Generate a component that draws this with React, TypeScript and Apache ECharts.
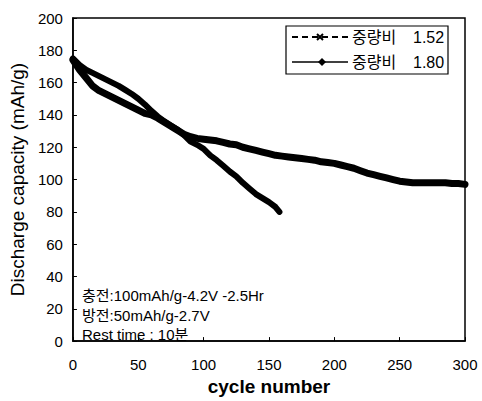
import React, { useEffect, useRef } from "react";
import * as echarts from "echarts";

const xTicks = [0, 50, 100, 150, 200, 250, 300];
const yTicks = [0, 20, 40, 60, 80, 100, 120, 140, 160, 180, 200];

const cyclesA = [0, 5, 10, 15, 20, 25, 30, 35, 40, 45, 50, 55, 60, 65, 70, 75, 80, 85, 90, 95, 100, 105, 110, 115, 120, 125, 130, 135, 140, 145, 150, 155, 160, 165, 170, 175, 180, 185, 190, 195, 200, 205, 210, 215, 220, 225, 230, 235, 240, 245, 250, 255, 260, 265, 270, 275, 280, 285, 290, 295, 300];
const valuesA = [174, 168, 163, 158, 155, 153, 151, 149, 147, 145, 143, 141, 140, 138, 135.5, 133, 130.5, 128, 126.5, 125.5, 125, 124.5, 124, 123, 122, 121.5, 120, 119, 118, 117, 116, 115, 114.5, 114, 113.5, 113, 112.5, 112, 111, 110.5, 110, 109, 108, 107, 105.5, 104, 103, 102, 101, 100, 99, 98.5, 98, 98, 98, 98, 98, 98, 97.5, 97.5, 97];

const cyclesB = [0, 5, 10, 15, 20, 25, 30, 35, 40, 45, 50, 55, 60, 65, 70, 75, 80, 85, 90, 95, 100, 105, 110, 115, 120, 125, 130, 135, 140, 145, 150, 155, 158];
const valuesB = [175, 171, 168, 166, 164, 162, 160, 158, 155.5, 153, 150, 146.5, 142.5, 139, 136, 133.5, 131, 127.5, 123.5, 121.5, 119, 115, 112, 108.5, 105, 102, 98, 94.5, 91, 88.5, 86, 83, 80];

const nameA = "중량비 1.52";
const nameB = "중량비 1.80";
const noteLines = ["충전:100mAh/g-4.2V -2.5Hr", "방전:50mAh/g-2.7V", "Rest time : 10분"];

const FONT = "'Liberation Sans', 'Noto Sans CJK KR', Arial, sans-serif";

export default function App() {
  const ref = useRef<HTMLDivElement>(null);
  useEffect(() => {
    if (!ref.current) return;
    const chart = echarts.init(ref.current, null, { renderer: "svg" });
    const txt = (x: number, y: number, text: string, size = 14) => ({
      type: "text",
      x,
      y,
      style: { text, fill: "#000", font: `${size}px ${FONT}`, textVerticalAlign: "middle" },
    });
    chart.setOption({
      animation: false,
      backgroundColor: "#fff",
      grid: { left: 68, right: 17, top: 18, bottom: 51, show: true, borderColor: "#000", borderWidth: 1.5 },
      xAxis: {
        type: "value",
        min: 0,
        max: 300,
        interval: 50,
        name: "cycle number",
        nameLocation: "middle",
        nameGap: 34,
        nameTextStyle: { fontFamily: FONT, fontSize: 19, fontWeight: "bold", color: "#000" },
        axisLine: { show: true, lineStyle: { color: "#000", width: 1.5 } },
        axisTick: { show: true, inside: true, length: 4, lineStyle: { color: "#000" } },
        axisLabel: {
          fontFamily: FONT,
          fontSize: 15,
          color: "#000",
          margin: 16,
          formatter: (v: number) => (xTicks.includes(v) ? String(v) : ""),
        },
        splitLine: { show: false },
      },
      yAxis: {
        type: "value",
        min: 0,
        max: 200,
        interval: 20,
        name: "Discharge capacity (mAh/g)",
        nameLocation: "middle",
        nameGap: 37,
        nameTextStyle: { fontFamily: FONT, fontSize: 19, color: "#000" },
        axisLine: { show: true, lineStyle: { color: "#000", width: 1.5 } },
        axisTick: { show: true, inside: true, length: 4, lineStyle: { color: "#000" } },
        axisLabel: {
          fontFamily: FONT,
          fontSize: 15,
          color: "#000",
          margin: 10,
          formatter: (v: number) => (yTicks.includes(v) ? String(v) : ""),
        },
        splitLine: { show: false },
      },
      series: [
        {
          name: nameA,
          type: "line",
          showSymbol: false,
          smooth: false,
          data: cyclesA.map((c, i) => [c, valuesA[i]]),
          lineStyle: { color: "#000", width: 7, cap: "round", join: "round" },
          itemStyle: { color: "#000" },
        },
        {
          name: nameB,
          type: "line",
          showSymbol: false,
          smooth: false,
          data: cyclesB.map((c, i) => [c, valuesB[i]]),
          lineStyle: { color: "#000", width: 6, cap: "round", join: "round" },
          itemStyle: { color: "#000" },
        },
      ],
      graphic: [
        { type: "rect", shape: { x: 286, y: 26, width: 162, height: 48 }, style: { fill: "#fff", stroke: "#000", lineWidth: 1.2 } },
        { type: "line", shape: { x1: 292, y1: 37, x2: 348, y2: 37 }, style: { stroke: "#000", lineWidth: 2, lineDash: [6, 4] } },
        { type: "line", shape: { x1: 317, y1: 34, x2: 323, y2: 40 }, style: { stroke: "#000", lineWidth: 2 } },
        { type: "line", shape: { x1: 317, y1: 40, x2: 323, y2: 34 }, style: { stroke: "#000", lineWidth: 2 } },
        { type: "line", shape: { x1: 292, y1: 62, x2: 348, y2: 62 }, style: { stroke: "#000", lineWidth: 1.5 } },
        { type: "polygon", shape: { points: [[322, 58], [326, 62], [322, 66], [318, 62]] }, style: { fill: "#000" } },
        txt(352, 37, "중량비", 16),
        txt(413, 37, "1.52", 16),
        txt(352, 62, "중량비", 16),
        txt(413, 62, "1.80", 16),
        txt(82, 295, noteLines[0], 15),
        txt(82, 315, noteLines[1], 15),
        txt(82, 334, noteLines[2], 15),
      ],
    });
    return () => chart.dispose();
  }, []);
  return <div ref={ref} style={{ width: 482, height: 401, position: "absolute", left: 0, top: 0 }} />;
}
